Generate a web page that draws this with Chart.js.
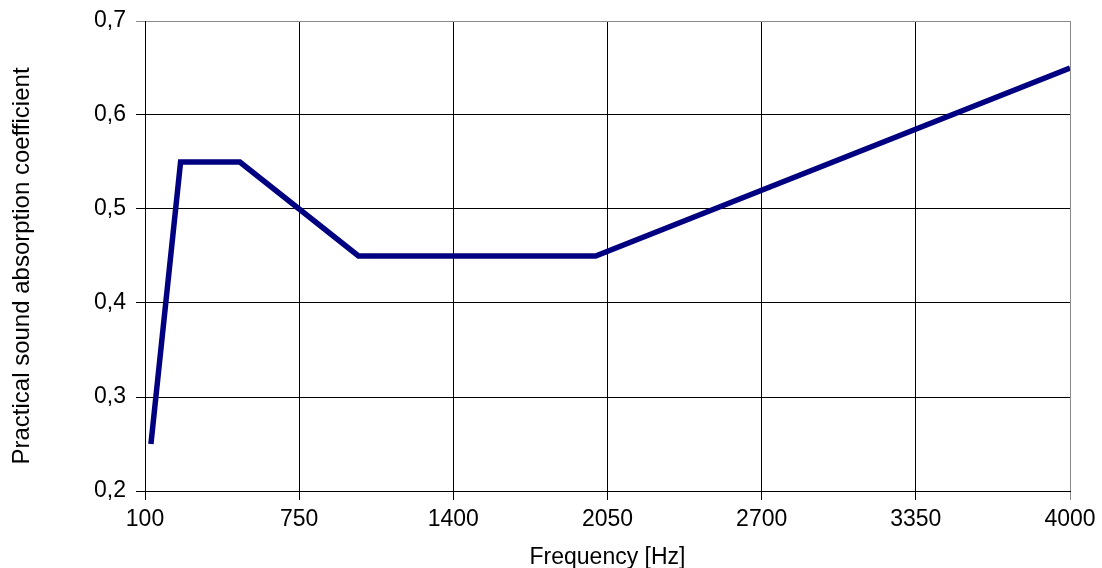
<!DOCTYPE html>
<html>
<head>
<meta charset="utf-8">
<script src="https://cdn.jsdelivr.net/npm/chart.js@4"></script>
<style>
  html, body { margin: 0; padding: 0; background: #fff; }
  #wrap { width: 1102px; height: 568px; }
</style>
</head>
<body>
<div id="wrap"><canvas id="absorptionChart" width="1102" height="568"></canvas></div>
<script>
// ----------------- Data -----------------
const frequencies = [125, 250, 500, 1000, 2000, 4000];
const absorption = [0.25, 0.55, 0.55, 0.45, 0.45, 0.65];
const xTickLabels = ['100', '750', '1400', '2050', '2700', '3350', '4000'];
const yTickLabels = ['0,2', '0,3', '0,4', '0,5', '0,6', '0,7'];

document.addEventListener("DOMContentLoaded", () => {
  const font = "'Liberation Sans', Arial, sans-serif";
  const ctx = document.getElementById('absorptionChart').getContext('2d');

  new Chart(ctx, {
    type: 'line',
    data: {
      datasets: [{
        data: frequencies.map((f, i) => ({ x: f, y: absorption[i] })),
        borderColor: '#000080',
        borderWidth: 5.5,
        pointRadius: 0,
        tension: 0,
        fill: false
      }]
    },
    options: {
      responsive: false,
      animation: false,
      layout: { padding: { top: 21, right: 32, left: 0, bottom: 0 } },
      plugins: { legend: { display: false }, tooltip: { enabled: false } },
      scales: {
        x: {
          type: 'linear',
          min: 100,
          max: 4000,
          afterBuildTicks: s => { s.ticks = xTickLabels.map(t => ({ value: Number(t) })); },
          afterFit: s => { s.height = 77; },
          ticks: {
            color: '#000',
            font: { family: font, size: 23 },
            padding: 6,
            maxRotation: 0,
            callback: (v, i) => xTickLabels[i]
          },
          grid: {
            color: c => (c.tick && c.tick.value === 4000) ? '#8a8a8a' : '#000',
            lineWidth: 1,
            tickLength: 9
          },
          border: { color: '#000' },
          title: {
            display: true,
            text: 'Frequency [Hz]',
            color: '#000',
            font: { family: font, size: 23 },
            padding: { top: 0, bottom: -3 }
          }
        },
        y: {
          min: 0.2,
          max: 0.7,
          afterBuildTicks: s => { s.ticks = yTickLabels.map(t => ({ value: Number(t.replace(',', '.')) })); },
          afterFit: s => { s.width = 145; },
          ticks: {
            color: '#000',
            font: { family: font, size: 23 },
            padding: 10,
            callback: (v, i) => yTickLabels[i]
          },
          grid: {
            color: c => (c.tick && c.tick.value === 0.7) ? '#8a8a8a' : '#000',
            lineWidth: 1,
            tickLength: 9
          },
          border: { color: '#000' },
          title: {
            display: true,
            // trailing spaces nudge the rotated title down a little
            text: 'Practical sound absorption coefficient   ',
            color: '#000',
            font: { family: font, size: 24 },
            padding: { top: 8, bottom: 0 }
          }
        }
      }
    },
    plugins: [{
      // pin the plot area to the reference frame
      id: 'frame',
      afterLayout: chart => {
        const a = chart.chartArea;
        a.top = 21; a.bottom = 491; a.left = 145; a.right = 1070;
        a.width = a.right - a.left; a.height = a.bottom - a.top;
        const x = chart.scales.x, y = chart.scales.y;
        x.left = 145; x.right = 1070; x.width = 925; x.top = 491; x.bottom = 568; x.height = 77;
        y.left = 0; y.right = 145; y.width = 145; y.top = 21; y.bottom = 491; y.height = 470;
        x.configure(); y.configure();
      }
    }]
  });
});
</script>
</body>
</html>
